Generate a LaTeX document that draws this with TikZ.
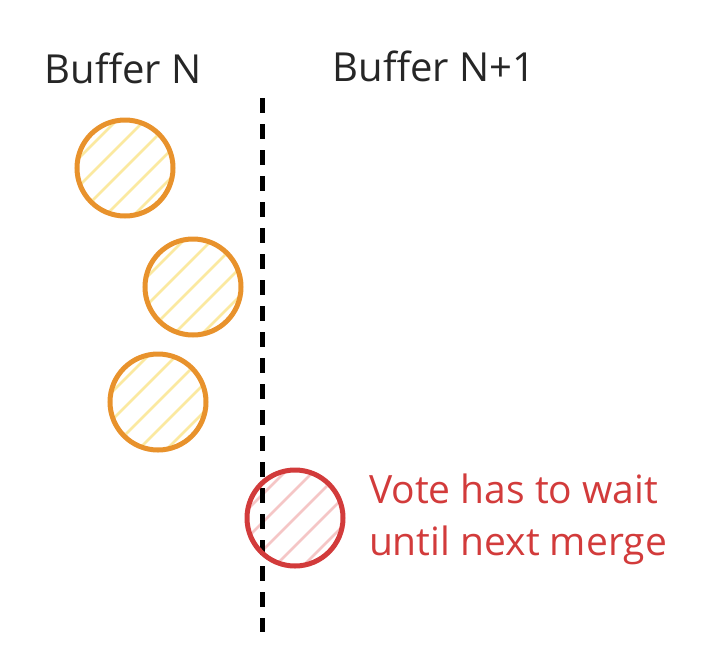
\documentclass[tikz,border=0pt]{standalone}
\usepackage{fontspec}
\setmainfont{Open Sans}
\usetikzlibrary{positioning}
\definecolor{voteorange}{HTML}{E8922C}
\definecolor{voteyellow}{HTML}{FBE9A0}
\definecolor{latered}{HTML}{D23B3B}
\definecolor{latepink}{HTML}{F5C6C6}
\begin{document}
\begin{tikzpicture}[x=1pt,y=-1pt,
    label/.style={font=\fontsize{40}{48}\selectfont, text=black!85},
    vote/.style={circle, minimum size=96pt, line width=5pt, draw=voteorange},
    latevote/.style={vote, draw=latered}]
    \useasboundingbox (0,0) rectangle (722,670);

    % Buffer titles
    \node[label] (bufn) at (123,68) {Buffer N};
    \node[label] (bufnext) at (434,66) {Buffer N+1};

    % Boundary between buffers
    \coordinate (top) at (262,98);
    \coordinate (bottom) at (262,632);

    % Votes with hatching
    \foreach \name/\cx/\cy/\hatch in {v1/125/168/voteyellow, v2/193/287/voteyellow, v3/158/402/voteyellow, v4/295/518/latepink} {
        \begin{scope}
            \clip (\cx,\cy) circle (46);
            \foreach \k in {-84,-56,...,84}
                \draw[\hatch, line width=2.5pt] (\cx+\k-60,\cy+60) -- (\cx+\k+60,\cy-60);
        \end{scope}
    }
    \node[vote] (v1) at (125,168) {};
    \node[vote] (v2) at (193,287) {};
    \node[vote] (v3) at (158,402) {};

    \draw[line width=5pt, dash pattern=on 15pt off 11pt] (top) -- (bottom);

    \node[latevote] (v4) at (295,518) {};
    \node[label, text=latered, align=left, right=20pt of v4, yshift=-1pt,
          font=\fontsize{39}{52}\selectfont] (note) {Vote has to wait\\until next merge};
\end{tikzpicture}
\end{document}
